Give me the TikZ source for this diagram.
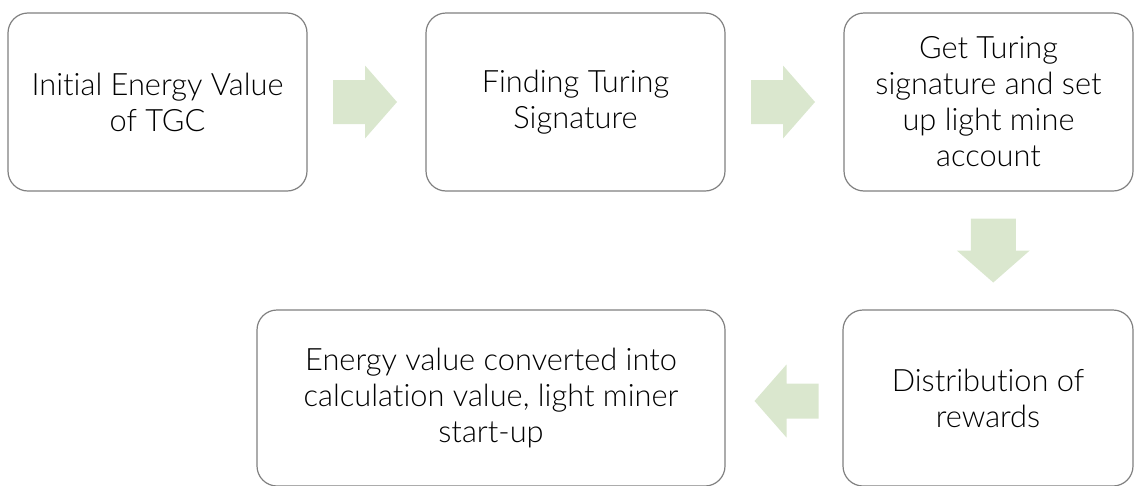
\documentclass[tikz,border=0pt]{standalone}
\usepackage{fontspec}
\setmainfont{Lato}[UprightFont=* Light, Ligatures=NoCommon]
\usetikzlibrary{calc}

\definecolor{boxline}{RGB}{128,128,128}
\definecolor{arrowgreen}{RGB}{218,231,206}

\tikzset{
  stepbox/.style={draw=boxline, line width=1.2pt, rounded corners=20pt,
    align=center, inner sep=0pt, font=\fontsize{30.8}{36}\selectfont},
  arrowfill/.style={fill=arrowgreen},
  pics/flowarrow/.style={code={
    \fill[arrowfill] (-32,-#1) -- (0,-#1) -- (0,-36.5) -- (32,0) -- (0,36.5) -- (0,#1) -- (-32,#1) -- cycle;
  }}
}

\begin{document}
\begin{tikzpicture}[x=1pt, y=1pt]
  \useasboundingbox (0,0) rectangle (1135,-485);

  % top row
  \node[stepbox, minimum width=299pt, minimum height=178pt] (initial) at (157.5,-102)
    {Initial Energy Value\\of TGC};
  \node[stepbox, minimum width=299pt, minimum height=178pt] (finding) at (575.5,-102)
    {Finding Turing\\Signature};
  \node[stepbox, minimum width=289pt, minimum height=178pt] (signature) at (988.5,-102)
    {Get Turing\\signature and set\\up light mine\\account};

  % bottom row
  \node[stepbox, minimum width=290pt, minimum height=176pt] (rewards) at (988,-398)
    {Distribution of\\rewards};
  \node[stepbox, minimum width=468pt, minimum height=176pt] (converted) at (491,-398)
    {Energy value converted into\\calculation value, light miner\\start-up};

  % arrows between steps
  \pic at ($(initial.east)!0.5!(finding.west)+(-1.5,0)$) {flowarrow=22};
  \pic at ($(finding.east)!0.5!(signature.west)+(-1.5,0)$) {flowarrow=22};
  \pic[rotate=-90] at ($(signature.south)!0.5!(rewards.north)+(5,0)$) {flowarrow=22.5};
  \pic[rotate=180] at ($(rewards.west)!0.5!(converted.east)+(2.5,-3)$) {flowarrow=17.5};
\end{tikzpicture}
\end{document}
